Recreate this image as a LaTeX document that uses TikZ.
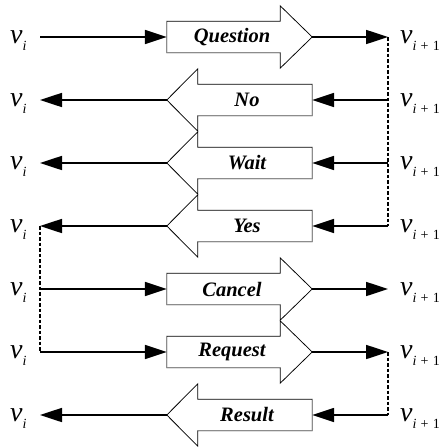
\documentclass[tikz,border=0pt]{standalone}
\usepackage{fontspec}
\setmainfont{Liberation Serif}
\usetikzlibrary{arrows.meta,calc,backgrounds}

\tikzset{
  msg/.style={minimum width=130pt,minimum height=31pt,inner sep=0pt,font=\fontsize{20.5}{24}\selectfont\bfseries\itshape},
  bigarrow/.style={fill=white,draw=black,line width=0.75pt},
  backedge/.style={draw=black!45,line width=0.75pt},
  link/.style={line width=1.7pt,-{Triangle[length=22pt,width=14pt]}},
  hop/.style={line width=1.3pt,dash pattern=on 3.5pt off 2pt},
  vname/.style={anchor=base west,inner sep=0pt,font=\fontsize{28}{28}\selectfont\itshape},
}
\newcommand{\vsub}[1]{v\raisebox{-7.5pt}{\fontsize{14}{14}\selectfont #1}}

\begin{document}
\begin{tikzpicture}[x=1pt,y=-1pt]
\useasboundingbox (0,0) rectangle (442,447);
% ends of the links and the node labels
\foreach \r/\y in {1/37,2/100,3/163,4/226,5/289,6/352,7/415}{
  \coordinate (l\r) at (40,\y);
  \coordinate (r\r) at (388,\y);
  \node[vname] (a\r) at (10,\y+6) {\vsub{i}};
  \node[vname] (b\r) at (400,\y+6) {\vsub{i\hspace{0.3em}{\upshape+\hspace{0.3em}1}}};
}
% messages
\node[msg] (q) at (232,37) {Question};
\node[msg] (n) at (247,100) {No};
\node[msg] (w) at (247,163) {Wait};
\node[msg] (ys) at (247,226) {Yes};
\node[msg] (c) at (232,289) {Cancel};
\node[msg] (rq) at (232,352) {Request};
\node[msg] (rs) at (247,415) {Result};
\begin{scope}[on background layer]
\foreach \m in {q,c,rq}{
  \draw[bigarrow] (\m.north west) -- ($(\m.north east)+(-17,0)$) -- ++(0,-15.5)
    -- ($(\m.east)+(15,0)$) coordinate (\m-tip) -- ($(\m.south east)+(-17,15.5)$) -- ++(0,-15.5)
    -- (\m.south west) -- cycle;
  \draw[backedge] (\m.north west) -- (\m.south west) -- ($(\m.south east)+(-17,0)$);
}
\foreach \m in {n,w,ys,rs}{
  \draw[bigarrow] (\m.north east) -- ($(\m.north west)+(16,0)$) -- ++(0,-15.5)
    -- ($(\m.west)+(-15,0)$) coordinate (\m-tip) -- ($(\m.south west)+(16,15.5)$) -- ++(0,-15.5)
    -- (\m.south east) -- cycle;
  \draw[backedge] (\m.north east) -- (\m.south east) -- ($(\m.south west)+(16,0)$);
}
\end{scope}
% links
\draw[link] (l1) -- (q.west);
\draw[link] (q-tip) -- (r1);
\draw[link] (r2) -- (n.east);
\draw[link] (n-tip) -- (l2);
\draw[link] (r3) -- (w.east);
\draw[link] (w-tip) -- (l3);
\draw[link] (r4) -- (ys.east);
\draw[link] (ys-tip) -- (l4);
\draw[link] (l5) -- (c.west);
\draw[link] (c-tip) -- (r5);
\draw[link] (l6) -- (rq.west);
\draw[link] (rq-tip) -- (r6);
\draw[link] (r7) -- (rs.east);
\draw[link] (rs-tip) -- (l7);
% hand-overs
\draw[hop] (r1) -- (r4);
\draw[hop] (l4) -- (l6);
\draw[hop] (r6) -- (r7);
\end{tikzpicture}
\end{document}
